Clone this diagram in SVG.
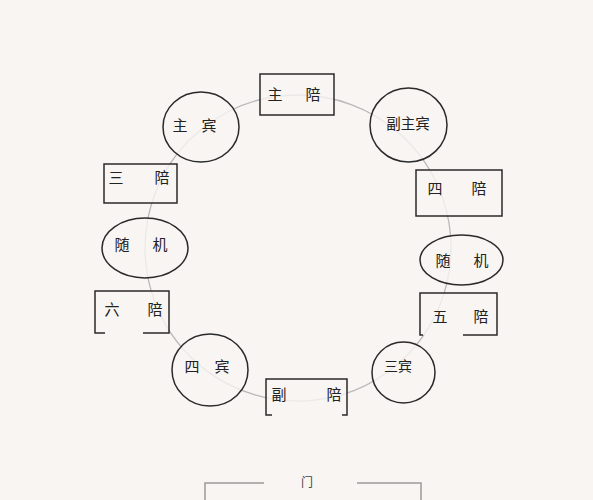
<svg xmlns="http://www.w3.org/2000/svg" width="593" height="500" viewBox="0 0 593 500">
<style>
.bg{fill:#f8f5f3}
.node{fill:#f8f5f3;fill-opacity:0.8;stroke:#2a2a2a;stroke-width:1.5}
.open{fill:none;stroke:#2a2a2a;stroke-width:1.5}
.conn{fill:none;stroke:#b9b9b9;stroke-width:1.3}
.door{fill:none;stroke:#9a9a9a;stroke-width:1.5}
text{font-family:"Noto Sans CJK SC","Noto Sans CJK TC",sans-serif;font-size:15px;fill:#222;text-anchor:middle;dominant-baseline:central}
.small{font-size:12px;fill:#444}
</style>
<rect class="bg" x="0" y="0" width="593" height="500"/>
<g id="connectors">
<path class="conn" d="M296.9,95 A153,153 0 0 1 398.6,132.7"/>
<path class="conn" d="M398.6,132.7 A153,153 0 0 1 442.8,198.4"/>
<path class="conn" d="M442.8,198.4 A153,153 0 0 1 450.6,259.2"/>
<path class="conn" d="M450.6,259.2 A153,153 0 0 1 439.4,306.3"/>
<path class="conn" d="M439.4,306.3 A153,153 0 0 1 397.4,364.3"/>
<path class="conn" d="M397.4,364.3 A153,153 0 0 1 306.3,400.8"/>
<path class="conn" d="M306.3,400.8 A153,153 0 0 1 208.5,372.1"/>
<path class="conn" d="M208.5,372.1 A153,153 0 0 1 155.3,303.1"/>
<path class="conn" d="M155.3,303.1 A153,153 0 0 1 145,248"/>
<path class="conn" d="M145,248 A153,153 0 0 1 156.3,190.2"/>
<path class="conn" d="M156.3,190.2 A153,153 0 0 1 202.3,128.6"/>
<path class="conn" d="M202.3,128.6 A153,153 0 0 1 296.9,95"/>
</g>
<g id="zhupei">
<rect class="node" x="260" y="74" width="74" height="41"/>
<text x="275" y="93">主</text><text x="313" y="93">陪</text>
</g>
<g id="fuzhubin">
<ellipse class="node" cx="408.5" cy="125" rx="38.5" ry="37"/>
<text x="408" y="122" style="font-size:14.5px">副主宾</text>
</g>
<g id="sipei">
<rect class="node" x="416" y="170" width="86" height="46"/>
<text x="435" y="187">四</text><text x="479" y="187">陪</text>
</g>
<g id="suiji-right">
<ellipse class="node" cx="461.5" cy="260" rx="41.5" ry="25"/>
<text x="443" y="259">随</text><text x="481" y="259">机</text>
</g>
<g id="wupei">
<rect class="bg" x="420" y="293" width="77" height="42" fill-opacity="0.8"/>
<path class="open" d="M423,335 H420 V293 H497 V335 H463"/>
<text x="440" y="315">五</text><text x="481" y="315">陪</text>
</g>
<g id="sanbin">
<ellipse class="node" cx="403.5" cy="372.5" rx="31.5" ry="30.5"/>
<text x="398" y="365" style="font-size:14px">三宾</text>
</g>
<g id="fupei">
<rect class="bg" x="266" y="379" width="81" height="36" fill-opacity="0.8"/>
<path class="open" d="M272,415 H266 V379 H347 V415 H342"/>
<text x="279" y="393">副</text><text x="334" y="393">陪</text>
</g>
<g id="sibin">
<ellipse class="node" cx="210" cy="370" rx="38" ry="36"/>
<text x="192" y="365">四</text><text x="222" y="365">宾</text>
</g>
<g id="liupei">
<rect class="bg" x="95" y="291" width="74" height="42" fill-opacity="0.8"/>
<path class="open" d="M105,333 H95 V291 H169 V333 H143"/>
<text x="112" y="308">六</text><text x="155" y="308">陪</text>
</g>
<g id="suiji-left">
<ellipse class="node" cx="145" cy="248" rx="43" ry="30"/>
<text x="122" y="243">随</text><text x="160" y="243">机</text>
</g>
<g id="sanpei">
<rect class="node" x="104" y="164" width="73" height="39"/>
<text x="116" y="176">三</text><text x="162" y="176">陪</text>
</g>
<g id="zhubin">
<ellipse class="node" cx="201" cy="127" rx="38" ry="35"/>
<text x="180" y="124">主</text><text x="209" y="124">宾</text>
</g>
<g id="door">
<path class="door" d="M205,500 V483 H264"/>
<path class="door" d="M357,483 H421 V500"/>
<text class="small" x="307" y="481">门</text>
</g>
</svg>
